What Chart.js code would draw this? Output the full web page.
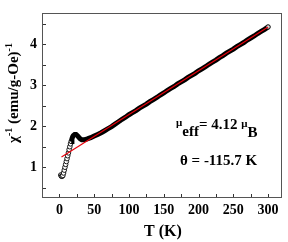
<!DOCTYPE html>
<html><head><meta charset="utf-8">
<script src="https://cdn.jsdelivr.net/npm/chart.js@4.4.1/dist/chart.umd.min.js"></script>
<style>html,body{margin:0;padding:0;background:#fff;}canvas{display:block;}</style>
</head><body>
<canvas id="c" width="288" height="242"></canvas>
<script>
// Low-temperature measured points (shown as open circles)
const lowT   = [2, 3, 4, 5, 6, 7, 8, 9, 10, 11, 12, 13, 14, 15, 16, 17];
const lowChi = [0.81, 0.78, 0.78, 0.80, 0.86, 0.93, 1.00, 1.07, 1.14, 1.21, 1.28, 1.35, 1.43, 1.50, 1.57, 1.63];
// Dense measured points (overlapping circles form a solid band)
const highT   = [17, 18, 19, 20, 22, 24, 26, 28, 30, 32, 34, 36, 38, 40, 45, 50, 55, 60, 65, 70, 75, 80, 85, 90,
                 95, 100, 105, 110, 115, 120, 125, 130, 135, 140, 145, 150, 155, 160, 165, 170, 175, 180, 185, 190,
                 195, 200, 205, 210, 215, 220, 225, 230, 235, 240, 245, 250, 255, 260, 265, 270, 275, 280, 285, 290, 295, 300];
const highChi = [1.63, 1.69, 1.74, 1.77, 1.80, 1.80, 1.77, 1.73, 1.69, 1.67, 1.67, 1.67, 1.68, 1.69, 1.72, 1.76, 1.80, 1.84, 1.89, 1.94, 1.99, 2.05, 2.11, 2.17,
                 2.22, 2.28, 2.33, 2.38, 2.44, 2.49, 2.54, 2.60, 2.65, 2.70, 2.76, 2.81, 2.87, 2.92, 2.97, 3.03, 3.08, 3.13, 3.19, 3.24,
                 3.29, 3.35, 3.40, 3.45, 3.51, 3.56, 3.61, 3.67, 3.72, 3.78, 3.83, 3.88, 3.94, 3.99, 4.04, 4.10, 4.15, 4.20, 4.26, 4.31, 4.36, 4.42];
// Curie-Weiss fit line
const fitT   = [3, 300];
const fitChi = [1.25, 4.42];
// Axis ticks
const xTickLabels = [0, 50, 100, 150, 200, 250, 300];
const xTickMarks  = [0, 25, 50, 75, 100, 125, 150, 175, 200, 225, 250, 275, 300];
const yTickLabels = [1, 2, 3, 4];
const yTickMarks  = [0.5, 1, 1.5, 2, 2.5, 3, 3.5, 4, 4.5];
const annotation1 = {mu: 'μ', sub: 'eff', mid: '= 4.12 ', mu2: 'μ', sub2: 'B'};
const annotation2 = 'θ = -115.7 K';
const yTitle = ['χ', '-1', ' (emu/g-Oe)', '-1'];
const xTitle = 'T (K)';

const SERIF = '"Liberation Serif", "Times New Roman", serif';
const toPts = (xs, ys) => xs.map((x, i) => ({x: x, y: ys[i]}));

const decor = {
  id: 'decor',
  afterDraw(chart) {
    const ctx = chart.ctx, a = chart.chartArea;
    const xs = chart.scales.x, ys = chart.scales.y;
    ctx.save();
    // frame
    ctx.strokeStyle = '#555';
    ctx.lineWidth = 1;
    ctx.strokeRect(Math.round(a.left) + 0.5, Math.round(a.top) + 0.5, Math.round(a.right - a.left) - 1, Math.round(a.bottom - a.top) - 1);
    // inward ticks
    ctx.strokeStyle = '#333';
    ctx.beginPath();
    xTickMarks.forEach(v => {
      const px = Math.round(xs.getPixelForValue(v)) + 0.5;
      ctx.moveTo(px, a.bottom - 1); ctx.lineTo(px, a.bottom - 4);
    });
    yTickMarks.forEach(v => {
      const py = Math.round(ys.getPixelForValue(v)) + 0.5;
      ctx.moveTo(a.left + 1, py); ctx.lineTo(a.left + 4, py);
    });
    ctx.stroke();
    ctx.fillStyle = '#000';
    ctx.textBaseline = 'alphabetic';
    // x title
    ctx.font = 'bold 16px ' + SERIF;
    ctx.textAlign = 'center';
    ctx.fillText(xTitle, (a.left + a.right) / 2 + 1, 236);
    // y title (rotated, with superscripts)
    ctx.save();
    ctx.translate(18, 93);
    ctx.rotate(-Math.PI / 2);
    const big = 'bold 15px ' + SERIF, small = 'bold 10px ' + SERIF;
    const parts = [[yTitle[0], big, 0], [yTitle[1], small, -6], [yTitle[2], big, 0], [yTitle[3], small, -6]];
    let total = 0;
    parts.forEach(p => { ctx.font = p[1]; total += ctx.measureText(p[0]).width; });
    let cx = -total / 2;
    ctx.textAlign = 'left';
    parts.forEach(p => { ctx.font = p[1]; ctx.fillText(p[0], cx, p[2]); cx += ctx.measureText(p[0]).width; });
    ctx.restore();
    // annotations
    ctx.textAlign = 'left';
    let x = 176;
    ctx.font = 'bold 11px ' + SERIF; ctx.fillText(annotation1.mu, x, 126); x += ctx.measureText(annotation1.mu).width;
    ctx.font = 'bold 15px ' + SERIF; ctx.fillText(annotation1.sub, x, 136); x += ctx.measureText(annotation1.sub).width;
    ctx.font = 'bold 15px ' + SERIF; ctx.fillText(annotation1.mid, x, 129); x += ctx.measureText(annotation1.mid).width;
    ctx.font = 'bold 11px ' + SERIF; ctx.fillText(annotation1.mu2, x, 127); x += ctx.measureText(annotation1.mu2).width;
    ctx.font = 'bold 15px ' + SERIF; ctx.fillText(annotation1.sub2, x, 137);
    ctx.font = 'bold 15px ' + SERIF;
    ctx.fillText(annotation2, 180, 165);
    ctx.restore();
  }
};

new Chart(document.getElementById('c'), {
  type: 'scatter',
  data: {
    datasets: [
      {label: 'fit', data: toPts(fitT, fitChi), showLine: true, borderColor: '#e8000b', borderWidth: 1.2, pointRadius: 0},
      {label: 'dense', data: toPts(highT, highChi), showLine: true, borderColor: '#000', borderWidth: 5,
       pointRadius: highT.map((t, i) => i === highT.length - 1 ? 2.2 : 0), pointBorderColor: '#000', pointBackgroundColor: '#ddd', pointBorderWidth: 1},
      {label: 'low', data: toPts(lowT, lowChi), showLine: false, pointRadius: 2.3, pointBorderWidth: 0.9,
       pointBorderColor: '#000', pointBackgroundColor: '#fff'}
    ]
  },
  options: {
    responsive: false,
    animation: false,
    devicePixelRatio: 1,
    layout: {padding: {left: 0, right: 6, top: 3, bottom: 0}},
    plugins: {legend: {display: false}, tooltip: {enabled: false}},
    scales: {
      x: {
        type: 'linear', min: -25, max: 320,
        grid: {display: false, drawTicks: false}, border: {display: false},
        afterBuildTicks: s => { s.ticks = xTickLabels.map(v => ({value: v})); },
        afterFit: s => { s.height = 44; },
        ticks: {font: {family: SERIF, weight: 'bold', size: 14}, color: '#000', padding: 4, maxRotation: 0, autoSkip: false}
      },
      y: {
        type: 'linear', min: 0.25, max: 4.75,
        grid: {display: false, drawTicks: false}, border: {display: false},
        afterBuildTicks: s => { s.ticks = yTickLabels.map(v => ({value: v})); },
        afterFit: s => { s.width = 42; },
        ticks: {font: {family: SERIF, weight: 'bold', size: 14}, color: '#000', padding: 5}
      }
    }
  },
  plugins: [decor]
});
</script>
</body></html>
